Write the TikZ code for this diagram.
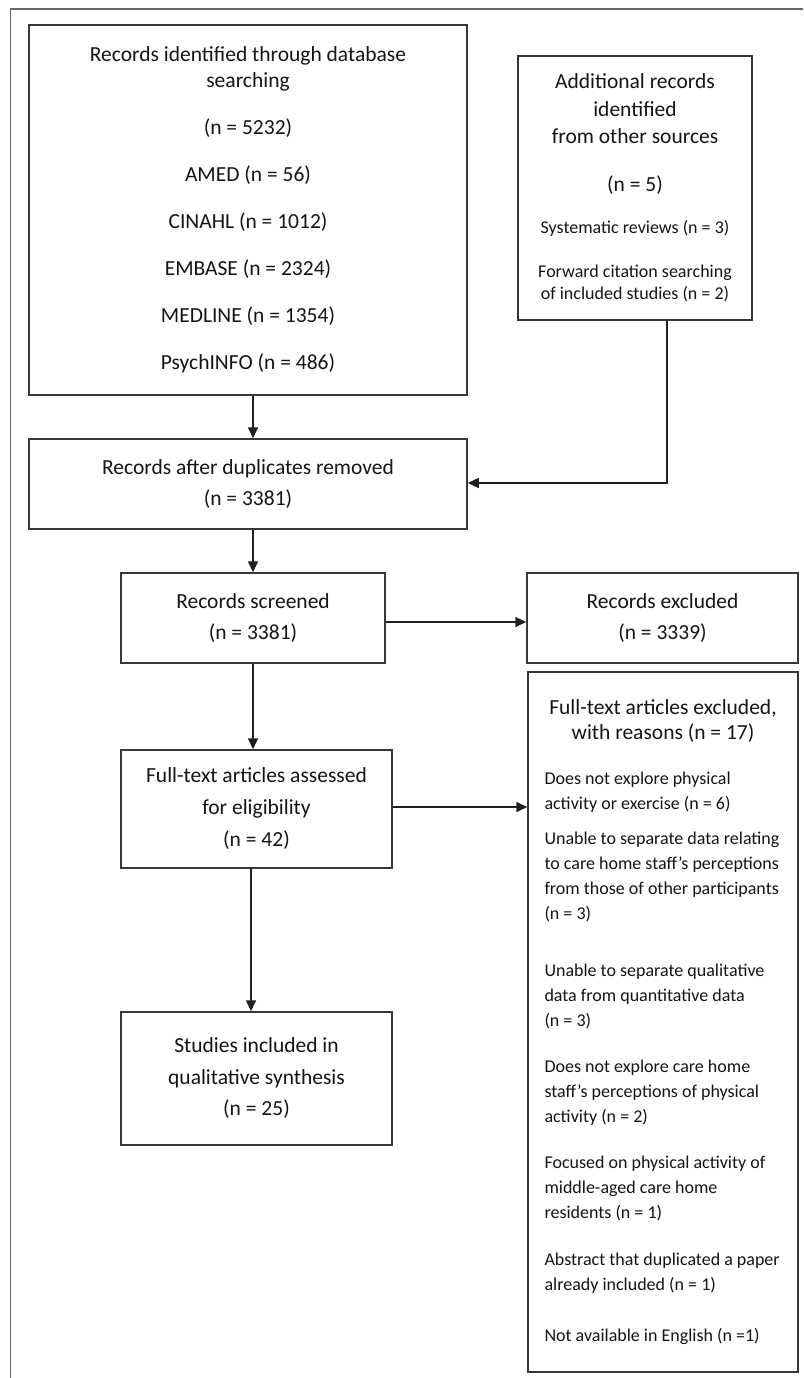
\documentclass[tikz,border=0pt]{standalone}
\usepackage{fontspec}
\setmainfont{Carlito}
\usetikzlibrary{arrows.meta}
\begin{document}
\begin{tikzpicture}[x=1pt,y=1pt,
  boxstyle/.style={draw=black!78, line width=1.5pt, inner sep=0pt, align=center, text=black!92},
  bigtext/.style={font=\fontsize{21.5}{#1}\selectfont},
  conn/.style={draw=black!88, line width=1.6pt, -{Triangle[length=11pt,width=10pt]}},
  frameline/.style={draw=black!60, line width=1.3pt}
]
\useasboundingbox (0,0) rectangle (803,-1378);
% outer frame (cropped)
\draw[frameline] (10.5,-1378) -- (10.5,-9) -- (803,-9);

\node[boxstyle, bigtext=26, minimum width=438, minimum height=370] (db) at (248,-210)
 {Records identified through database\\ searching\\[21pt] (n = 5232)\\[21pt] AMED (n = 56)\\[21pt] CINAHL (n = 1012)\\[21pt] EMBASE (n = 2324)\\[21pt] MEDLINE (n = 1354)\\[21pt] PsychINFO (n = 486)};

\node[boxstyle, bigtext=27.5, minimum width=234, minimum height=264] (other) at (635,-188)
 {Additional records\\ identified\\ from other sources\\[20.5pt] (n = 5)\\[14.5pt]
  {\fontsize{18}{22}\selectfont Systematic reviews (n = 3)}\\[16.5pt]
  {\fontsize{18}{22}\selectfont Forward citation searching}\\[-5.5pt]
  {\fontsize{18}{22}\selectfont of included studies (n = 2)}};

\node[boxstyle, bigtext=31, minimum width=438, minimum height=90] (dup) at (248,-484)
 {Records after duplicates removed\\ (n = 3381)};

\node[boxstyle, bigtext=31, minimum width=264, minimum height=90] (screen) at (253,-618)
 {Records screened\\ (n = 3381)};

\node[boxstyle, bigtext=31, minimum width=271, minimum height=90] (excl) at (662.5,-618)
 {Records excluded\\ (n = 3339)};

\node[boxstyle, bigtext=32, minimum width=271, minimum height=118] (full) at (256.5,-809)
 {Full-text articles assessed\\ for eligibility\\ (n = 42)};

\node[boxstyle, bigtext=31.5, minimum width=271, minimum height=133] (incl) at (256.5,-1078.5)
 {Studies included in\\ qualitative synthesis\\ (n = 25)};

\node[boxstyle, align=left, font=\fontsize{18}{25}\selectfont, minimum width=270, minimum height=700] (reasons) at (663,-1022)
 {\makebox[237pt][c]{\fontsize{21.5}{25}\selectfont Full-text articles excluded,}\\
  \makebox[237pt][c]{\fontsize{21.5}{25}\selectfont with reasons (n = 17)}\\[20pt]
  Does not explore physical\\
  activity or exercise (n = 6)\\[10pt]
  Unable to separate data relating\\
  to care home staff’s perceptions\\
  from those of other participants\\
  (n = 3)\\[32pt]
  Unable to separate qualitative\\
  data from quantitative data\\
  (n = 3)\\[21pt]
  Does not explore care home\\
  staff’s perceptions of physical\\
  activity (n = 2)\\[21pt]
  Focused on physical activity of\\
  middle-aged care home\\
  residents (n = 1)\\[22pt]
  Abstract that duplicated a paper\\
  already included (n = 1)\\[26pt]
  Not available in English (n =1)};

% connectors
\draw[conn] (screen.center |- db.south) -- (screen.center |- dup.north);
\draw[conn] ([xshift=32pt]other.south) |- ([yshift=1pt]dup.east);
\draw[conn] (screen.center |- dup.south) -- (screen.north);
\draw[conn] ([yshift=-4pt]screen.east) -- ([yshift=-4pt]screen.east -| excl.west);
\draw[conn] (screen.south) -- (screen.south |- full.north);
\draw[conn] ([yshift=2pt]full.east) -- ([yshift=2pt]full.east -| reasons.west);
\draw[conn] ([xshift=-5.5pt]full.south) -- ([xshift=-5.5pt]full.south |- incl.north);
\end{tikzpicture}
\end{document}
